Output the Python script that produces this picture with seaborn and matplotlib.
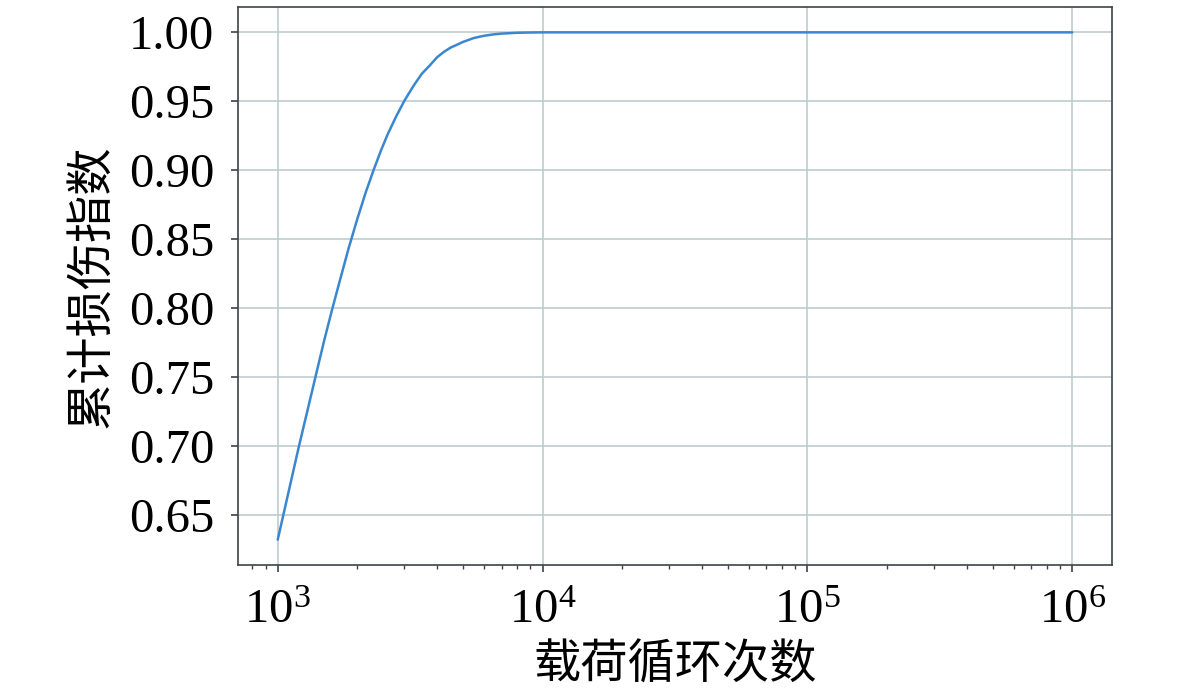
import numpy as np
import pandas as pd
import matplotlib.pyplot as plt
import seaborn as sns

# readings taken from the curve
cycles = [1000, 1100, 1200, 1300, 1400, 1500, 1600, 1700, 1850, 2000, 2150,
          2300, 2450, 2600, 2800, 3000, 3250, 3500, 3750, 4000, 4250, 4500,
          4750, 5000, 5500, 6000, 6500, 7000, 7500, 8000, 9000, 10000,
          100000, 1000000]
damage = [0.632, 0.667, 0.699, 0.727, 0.753, 0.777, 0.798, 0.817, 0.843,
          0.865, 0.884, 0.900, 0.914, 0.926, 0.939, 0.950, 0.961, 0.970,
          0.976, 0.982, 0.986, 0.989, 0.991, 0.993, 0.9959, 0.9975, 0.9985,
          0.9991, 0.9994, 0.9997, 0.9999, 1.0, 1.0, 1.0]

df = pd.DataFrame({'cycles': cycles, 'damage': damage})

sns.set_style('ticks')
plt.rcParams['font.family'] = ['Liberation Serif', 'Noto Sans CJK SC']
plt.rcParams['mathtext.fontset'] = 'stix'

fig = plt.figure(figsize=(11.81, 6.95), dpi=100)
ax = fig.add_axes([238 / 1181, 1 - 565 / 695, (1112 - 238) / 1181, (565 - 7) / 695])

sns.lineplot(data=df, x='cycles', y='damage', ax=ax, color='#3a87d0', linewidth=1.8)
ax.set_xscale('log')

ax.grid(True, which='major', color='#bfcccf', linewidth=1.2)
ax.set_axisbelow(True)
for s in ax.spines.values():
    s.set_color('#3c4448')
    s.set_linewidth(1.2)

ax.set_yticks([0.65, 0.70, 0.75, 0.80, 0.85, 0.90, 0.95, 1.00])
ax.yaxis.set_major_formatter(plt.FormatStrFormatter('%.2f'))
ax.tick_params(axis='both', which='major', labelsize=35, labelcolor='black',
               length=5, width=1.2, color='#3c4448')
ax.tick_params(axis='x', which='minor', length=3, width=1, color='#3c4448')
ax.tick_params(axis='x', which='major', pad=12)
ax.tick_params(axis='y', which='major', pad=12)

ax.set_xlabel('载荷循环次数', fontsize=34, family='Noto Sans CJK SC', color='black', labelpad=6)
ax.set_ylabel('累计损伤指数', fontsize=34, family='Noto Sans CJK SC', color='black', labelpad=10)

fig.savefig('out.png', dpi=100)
